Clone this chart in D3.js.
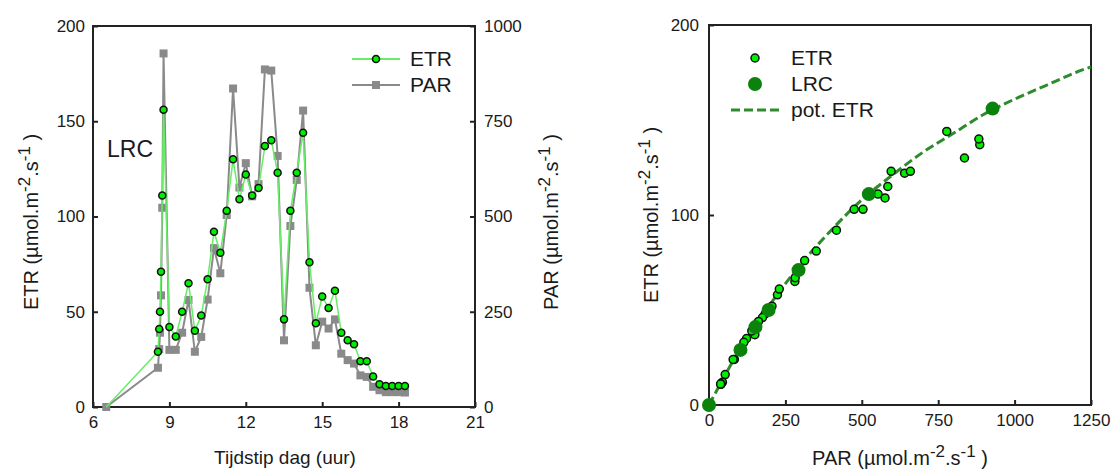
<!DOCTYPE html>
<html>
<head>
<meta charset="utf-8">
<script src="https://d3js.org/d3.v7.min.js"></script>
<style>
  body { margin: 0; background: #fff; }
  svg text { font-family: "Liberation Sans", Arial, sans-serif; fill: #1a1a1a; }
</style>
</head>
<body>
<div id="chart"></div>
<script>
// Time of day (hours) for every measurement
var hours = [6.52, 8.55, 8.6, 8.63, 8.67, 8.72, 8.77,
    9.0, 9.25, 9.5, 9.75, 10.0, 10.25, 10.5, 10.75, 11.0, 11.25,
    11.5, 11.75, 12.0, 12.25, 12.5, 12.75, 13.0, 13.25, 13.5, 13.75,
    14.0, 14.25, 14.5, 14.75, 15.0, 15.25, 15.5, 15.75, 16.0, 16.25,
    16.5, 16.75, 17.0, 17.25, 17.5, 17.75, 18.0, 18.25];

// ETR (umol.m-2.s-1)
var etr = [0, 29, 41, 50, 71, 111, 156,
    42, 37, 50, 65, 40, 48, 67, 92, 81, 103,
    130, 109, 122, 111, 115, 137, 140, 123, 46, 103,
    123, 144, 76, 44, 58, 52, 61, 39, 35, 33,
    24, 24, 16, 12, 11, 11, 11, 11];

// PAR (umol.m-2.s-1)
var par = [0, 103, 152, 195, 293, 523, 928,
    150, 150, 195, 281, 145, 184, 282, 417, 351, 504,
    836, 576, 640, 553, 585, 886, 883, 659, 175, 475,
    596, 778, 313, 162, 224, 206, 230, 140, 123, 114,
    83, 79, 53, 44, 39, 39, 39, 38];

// indices of the light response curve measurements
var lrcIdx = [0, 1, 2, 3, 4, 5, 6];

// potential ETR curve
var potPar = [0, 100, 200, 300, 400, 500, 600, 700, 800, 900, 1000, 1100, 1200, 1250];
var potEtr = [0, 29, 53, 74, 92, 108, 121, 133, 143, 153, 161, 168, 175, 178];

// tick values
var hourTicks = [6, 9, 12, 15, 18, 21];
var etrTicksLeft = [0, 50, 100, 150, 200];
var parTicksRight = [0, 250, 500, 750, 1000];
var parTicksBottom = [0, 250, 500, 750, 1000, 1250];
var etrTicksRight = [0, 100, 200];

var svgWidth = 1112;
var svgHeight = 471;

var green = "#00ee00";
var lineGreen = "#66ee66";
var grey = "#8a8a8a";
var darkGreen = "#0b820b";
var potGreen = "#2e8b2e";

var svg = d3.select("#chart")
    .append("svg")
    .attr("width", svgWidth)
    .attr("height", svgHeight);

var data = hours.map(function(h, i) {
    return {hour: h, etr: etr[i], par: par[i], lrc: lrcIdx.indexOf(i) >= 0};
});

var fmt = d3.format("d");

// helper: axis label with superscripts
function unitLabel(sel, prefix) {
    sel.append("tspan").text(prefix + " (µmol.m");
    sel.append("tspan").attr("dy", -8).attr("font-size", "0.85em").text("-2");
    sel.append("tspan").attr("dy", 8).text(".s");
    sel.append("tspan").attr("dy", -8).attr("font-size", "0.85em").text("-1");
    sel.append("tspan").attr("dy", 8).text(" )");
}

// ---------------- Left chart: time series ----------------
var L = {left: 93, right: 475, top: 26, bottom: 407};

var xTime = d3.scaleLinear().domain([6, 21]).range([L.left, L.right]);
var yEtr = d3.scaleLinear().domain([0, 200]).range([L.bottom, L.top]);
var yPar = d3.scaleLinear().domain([0, 1000]).range([L.bottom, L.top]);

var left = svg.append("g");

left.append("g")
    .attr("transform", "translate(0," + L.bottom + ")")
    .call(d3.axisBottom(xTime).tickValues(hourTicks).tickFormat(fmt).tickSizeInner(-5).tickSizeOuter(0).tickPadding(9))
    .call(styleAxis);

left.append("g")
    .attr("transform", "translate(" + L.left + ",0)")
    .call(d3.axisLeft(yEtr).tickValues(etrTicksLeft).tickFormat(fmt).tickSizeInner(-5).tickSizeOuter(0).tickPadding(8))
    .call(styleAxis);

left.append("g")
    .attr("transform", "translate(" + L.right + ",0)")
    .call(d3.axisRight(yPar).tickValues(parTicksRight).tickFormat(fmt).tickSizeInner(-5).tickSizeOuter(0).tickPadding(9))
    .call(styleAxis);

left.append("rect")
    .attr("x", L.left).attr("y", L.top)
    .attr("width", L.right - L.left).attr("height", L.bottom - L.top)
    .attr("fill", "none").attr("stroke", "#222").attr("stroke-width", 2);

// PAR line and markers
left.append("path")
    .datum(data)
    .attr("fill", "none")
    .attr("stroke", grey)
    .attr("stroke-width", 2)
    .attr("d", d3.line().x(d => xTime(d.hour)).y(d => yPar(d.par)));

left.selectAll(".parPt")
    .data(data)
    .enter().append("rect")
    .attr("class", "parPt")
    .attr("x", d => xTime(d.hour) - 4)
    .attr("y", d => yPar(d.par) - 4)
    .attr("width", 8).attr("height", 8)
    .attr("fill", grey);

// ETR line and markers
left.append("path")
    .datum(data)
    .attr("fill", "none")
    .attr("stroke", lineGreen)
    .attr("stroke-width", 1.5)
    .attr("d", d3.line().x(d => xTime(d.hour)).y(d => yEtr(d.etr)));

left.selectAll(".etrPt")
    .data(data.slice(1))
    .enter().append("circle")
    .attr("class", "etrPt")
    .attr("cx", d => xTime(d.hour))
    .attr("cy", d => yEtr(d.etr))
    .attr("r", 3.5)
    .attr("fill", green)
    .attr("stroke", "#111")
    .attr("stroke-width", 1.5);

// legend
var lg = left.append("g");
lg.append("line").attr("x1", 352).attr("x2", 400).attr("y1", 59).attr("y2", 59)
    .attr("stroke", lineGreen).attr("stroke-width", 2);
lg.append("circle").attr("cx", 376).attr("cy", 59).attr("r", 3.5)
    .attr("fill", green).attr("stroke", "#111").attr("stroke-width", 1.5);
lg.append("text").attr("x", 410).attr("y", 66).attr("font-size", 21).text("ETR");
lg.append("line").attr("x1", 352).attr("x2", 400).attr("y1", 85).attr("y2", 85)
    .attr("stroke", grey).attr("stroke-width", 2);
lg.append("rect").attr("x", 372).attr("y", 81).attr("width", 8).attr("height", 8).attr("fill", grey);
lg.append("text").attr("x", 410).attr("y", 92).attr("font-size", 21).text("PAR");

left.append("text").attr("x", 107).attr("y", 157).attr("font-size", 23).text("LRC");

// axis titles
left.append("text")
    .attr("text-anchor", "middle")
    .attr("x", 285).attr("y", 464)
    .attr("font-size", 19)
    .text("Tijdstip dag (uur)");

left.append("text")
    .attr("text-anchor", "middle")
    .attr("transform", "translate(38,222) rotate(-90)")
    .attr("font-size", 20)
    .call(unitLabel, "ETR");

left.append("text")
    .attr("text-anchor", "middle")
    .attr("transform", "translate(558,222) rotate(-90)")
    .attr("font-size", 20)
    .call(unitLabel, "PAR");

// ---------------- Right chart: ETR vs PAR ----------------
var R = {left: 709, right: 1091, top: 25, bottom: 405};

var xPar = d3.scaleLinear().domain([0, 1250]).range([R.left, R.right]);
var yEtr2 = d3.scaleLinear().domain([0, 200]).range([R.bottom, R.top]);

var right = svg.append("g");

right.append("g")
    .attr("transform", "translate(0," + R.bottom + ")")
    .call(d3.axisBottom(xPar).tickValues(parTicksBottom).tickFormat(fmt).tickSizeInner(-5).tickSizeOuter(0).tickPadding(9))
    .call(styleAxis);

right.append("g")
    .attr("transform", "translate(" + R.left + ",0)")
    .call(d3.axisLeft(yEtr2).tickValues(etrTicksRight).tickFormat(fmt).tickSizeInner(-5).tickSizeOuter(0).tickPadding(10))
    .call(styleAxis);

right.append("rect")
    .attr("x", R.left).attr("y", R.top)
    .attr("width", R.right - R.left).attr("height", R.bottom - R.top)
    .attr("fill", "none").attr("stroke", "#222").attr("stroke-width", 2);

// potential ETR dashed curve
right.append("path")
    .datum(potPar.map((p, i) => [p, potEtr[i]]))
    .attr("fill", "none")
    .attr("stroke", potGreen)
    .attr("stroke-width", 3)
    .attr("stroke-dasharray", "9,4")
    .attr("d", d3.line().curve(d3.curveMonotoneX).x(d => xPar(d[0])).y(d => yEtr2(d[1])));

right.selectAll(".etrDot")
    .data(data.filter(d => !d.lrc))
    .enter().append("circle")
    .attr("class", "etrDot")
    .attr("cx", d => xPar(d.par))
    .attr("cy", d => yEtr2(d.etr))
    .attr("r", 4)
    .attr("fill", green)
    .attr("stroke", "#111")
    .attr("stroke-width", 1.5);

right.selectAll(".lrcDot")
    .data(data.filter(d => d.lrc))
    .enter().append("circle")
    .attr("class", "lrcDot")
    .attr("cx", d => xPar(d.par))
    .attr("cy", d => yEtr2(d.etr))
    .attr("r", 7)
    .attr("fill", darkGreen);

// legend
var rg = right.append("g");
rg.append("circle").attr("cx", 755).attr("cy", 58).attr("r", 4)
    .attr("fill", green).attr("stroke", "#111").attr("stroke-width", 1.5);
rg.append("text").attr("x", 791).attr("y", 65).attr("font-size", 21).text("ETR");
rg.append("circle").attr("cx", 755).attr("cy", 84).attr("r", 7).attr("fill", darkGreen);
rg.append("text").attr("x", 791).attr("y", 91).attr("font-size", 21).text("LRC");
rg.append("line").attr("x1", 731).attr("x2", 779).attr("y1", 110).attr("y2", 110)
    .attr("stroke", potGreen).attr("stroke-width", 3).attr("stroke-dasharray", "9,4");
rg.append("text").attr("x", 791).attr("y", 117).attr("font-size", 21).text("pot. ETR");

right.append("text")
    .attr("text-anchor", "middle")
    .attr("x", 900).attr("y", 465)
    .attr("font-size", 20)
    .call(unitLabel, "PAR");

right.append("text")
    .attr("text-anchor", "middle")
    .attr("transform", "translate(658,215) rotate(-90)")
    .attr("font-size", 20)
    .call(unitLabel, "ETR");

function styleAxis(g) {
    g.select(".domain").remove();
    g.selectAll(".tick line").attr("stroke", "#222").attr("stroke-width", 2);
    g.selectAll(".tick text").attr("font-size", 17).attr("fill", "#1a1a1a")
        .attr("font-family", "Liberation Sans, Arial, sans-serif");
}
</script>
</body>
</html>
